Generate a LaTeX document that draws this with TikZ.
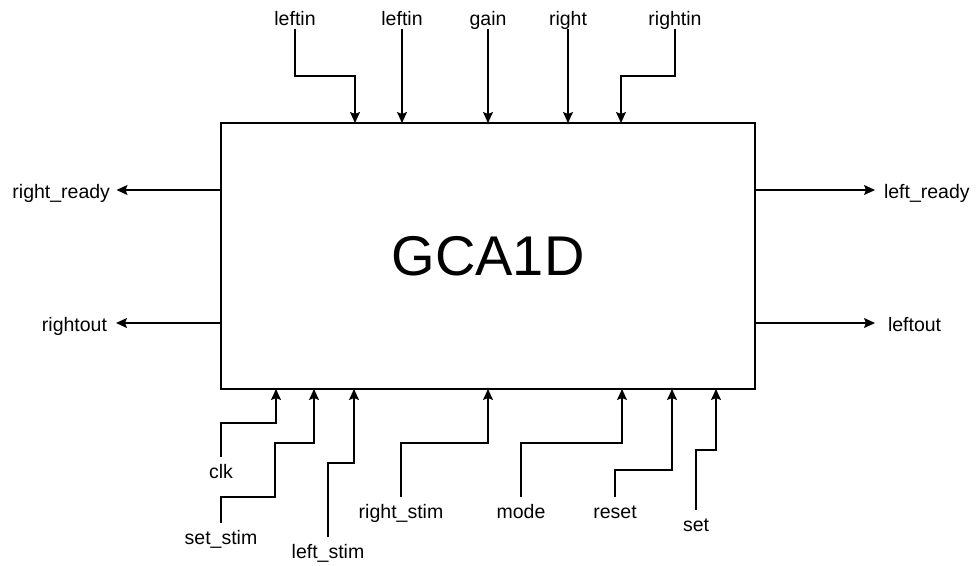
\documentclass[tikz,border=0pt]{standalone}
\usepackage{fontspec}
\setmainfont{Liberation Sans}
\usetikzlibrary{arrows.meta}
\begin{document}
\begin{tikzpicture}[x=1pt,y=-1pt,
  lbl/.style={inner sep=0pt, outer sep=0pt, text height=21pt, text depth=4pt, font=\fontsize{19.5}{22}\selectfont},
  arr/.style={line width=1.3pt, -{Stealth[length=11pt,width=10pt,inset=2pt]}},
  blk/.style={draw, line width=1.3pt, inner sep=0pt, outer sep=0pt, minimum width=534pt, minimum height=266pt, font=\fontsize{56}{60}\selectfont}]
\useasboundingbox (0,0) rectangle (976,565);
\node[blk] (box) at (488,256) {GCA1D};
% top inputs
\node[lbl, anchor=south] (t1) at (295,29) {leftin};
\node[lbl, anchor=south] (t2) at (402,29) {leftin};
\node[lbl, anchor=south] (t3) at (488,29) {gain};
\node[lbl, anchor=south] (t4) at (568,29) {right};
\node[lbl, anchor=south] (t5) at (675,29) {rightin};
\draw[arr] (t1.south) |- (355,76) -- (355,0 |- box.north);
\draw[arr] (t2.south) -- (t2.south |- box.north);
\draw[arr] (t3.south) -- (t3.south |- box.north);
\draw[arr] (t4.south) -- (t4.south |- box.north);
\draw[arr] (t5.south) |- (621,76) -- (621,0 |- box.north);
% side outputs
\node[lbl, anchor=east] (rr) at (110,190) {right\_ready};
\node[lbl, anchor=east] (ro) at (107,323) {rightout};
\node[lbl, anchor=west] (lr) at (884,190) {left\_ready};
\node[lbl, anchor=west] (lo) at (888,323) {leftout};
\draw[arr] (box.west |- rr.east) -- ([xshift=6.5]rr.east);
\draw[arr] (box.west |- ro.east) -- ([xshift=9]ro.east);
\draw[arr] (box.east |- lr.west) -- ([xshift=-9]lr.west);
\draw[arr] (box.east |- lo.west) -- ([xshift=-13]lo.west);
% bottom inputs
\node[lbl, anchor=north] (clk) at (221,457) {clk};
\node[lbl, anchor=north] (ss) at (221,523) {set\_stim};
\node[lbl, anchor=north] (ls) at (328,537) {left\_stim};
\node[lbl, anchor=north] (rs) at (401,497) {right\_stim};
\node[lbl, anchor=north] (mo) at (521,497) {mode};
\node[lbl, anchor=north] (re) at (615,497) {reset};
\node[lbl, anchor=north] (se) at (696,510) {set};
\draw[arr] (clk.north) |- (276,423) -- (276,0 |- box.south);
\draw[arr] (ss.north) |- (275,497) |- (314,443) -- (314,0 |- box.south);
\draw[arr] (ls.north) |- (354,463) -- (354,0 |- box.south);
\draw[arr] (rs.north) |- (488,443) -- (488,0 |- box.south);
\draw[arr] (mo.north) |- (622,443) -- (622,0 |- box.south);
\draw[arr] (re.north) |- (672,470) -- (672,0 |- box.south);
\draw[arr] (se.north) |- (716,450) -- (716,0 |- box.south);
\end{tikzpicture}
\end{document}
